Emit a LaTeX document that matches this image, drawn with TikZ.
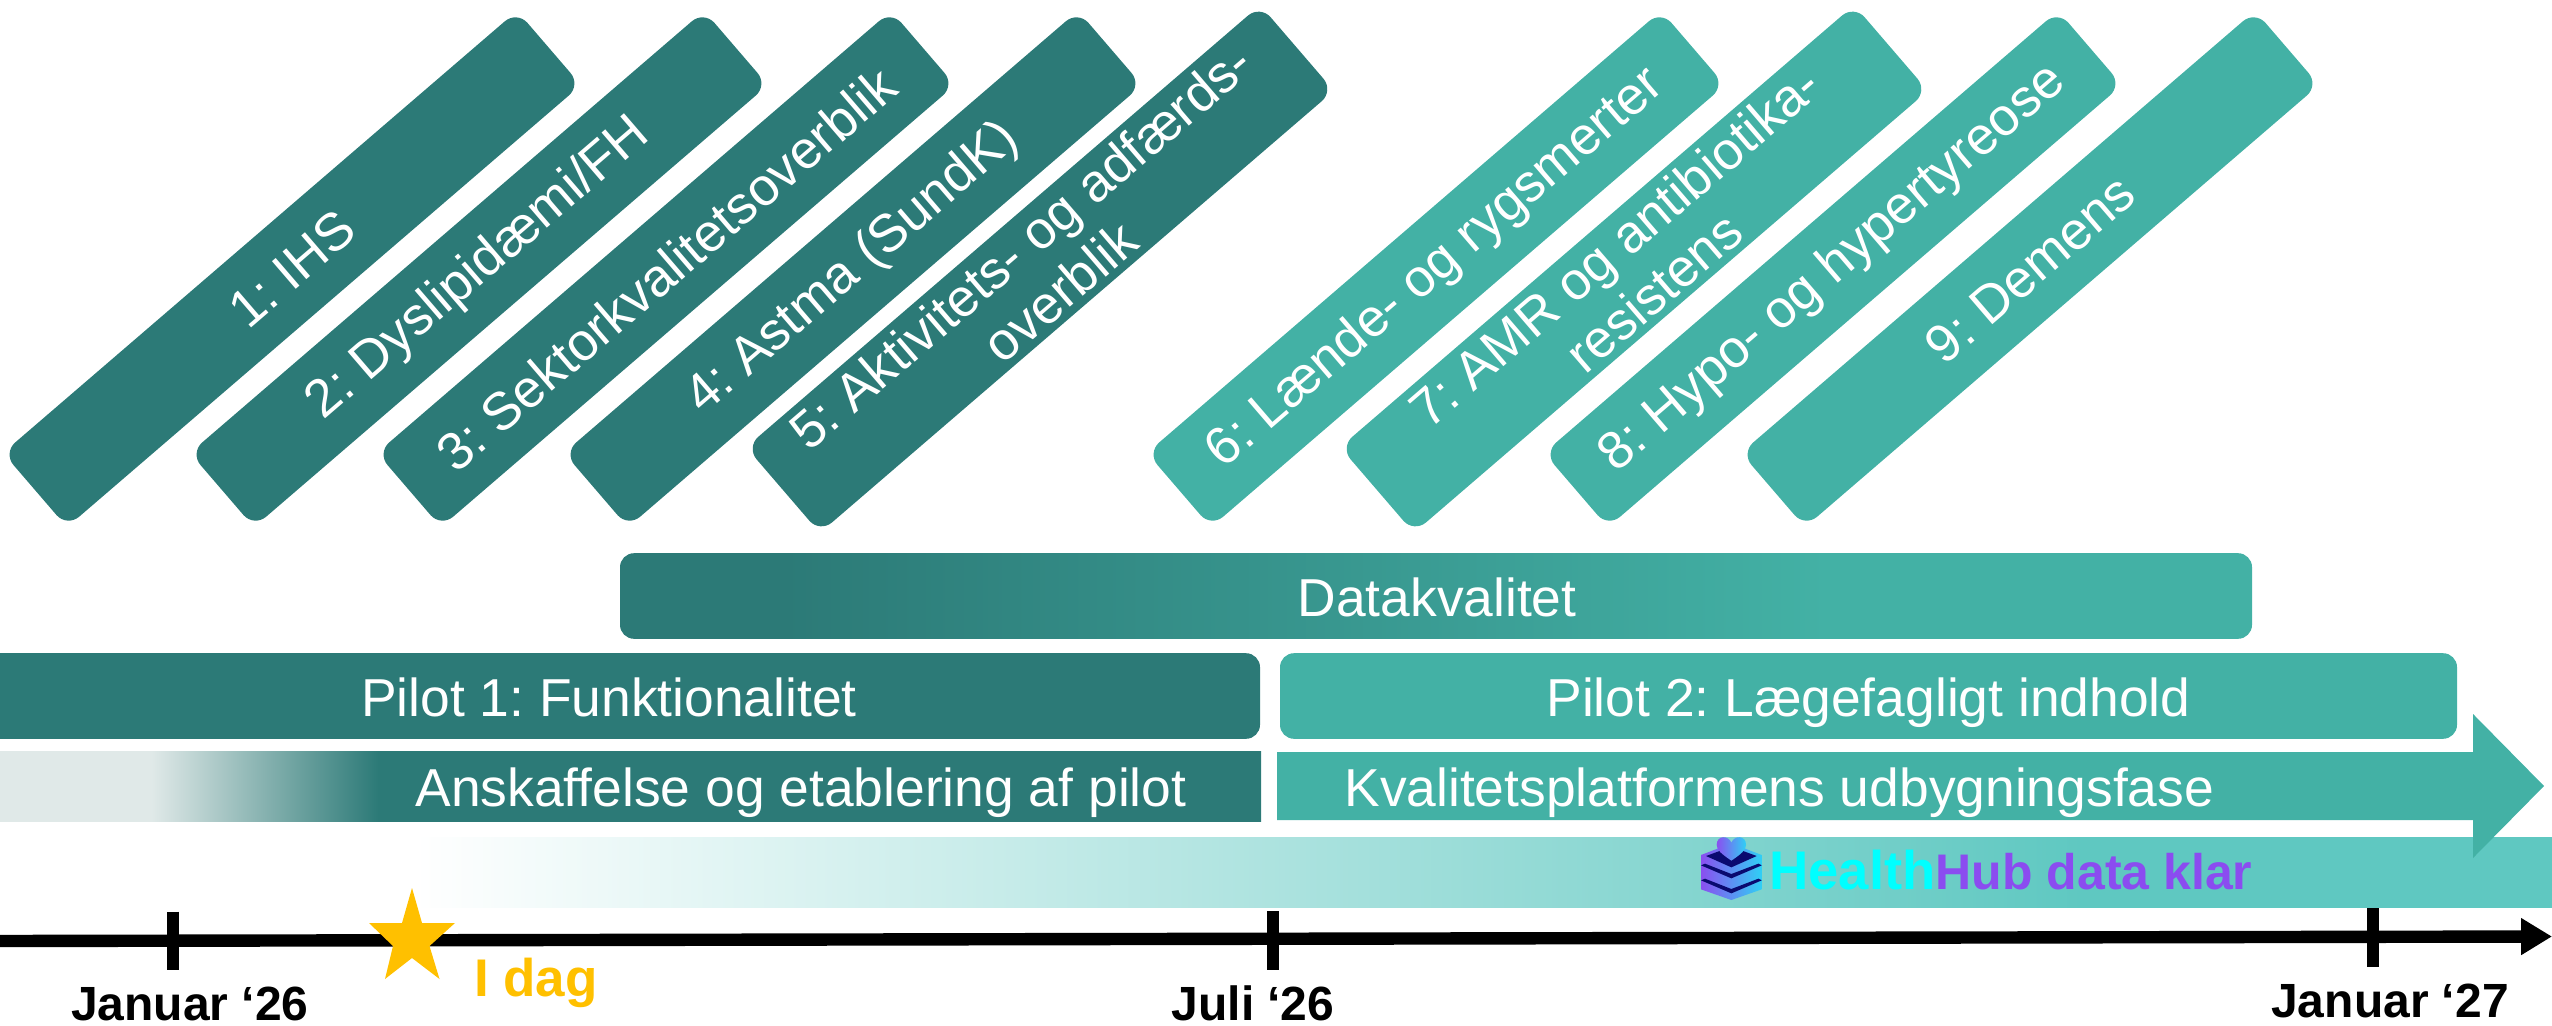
\documentclass[tikz,border=0pt]{standalone}
\usepackage{fontspec}
\setmainfont{Liberation Sans}
\usetikzlibrary{arrows.meta}
\frenchspacing
\definecolor{dk}{HTML}{2C7A77}
\definecolor{lt}{HTML}{43B1A5}
\definecolor{fade}{HTML}{E0E9E8}
\definecolor{hub}{HTML}{5FC8C1}
\definecolor{star}{HTML}{FFC000}
\definecolor{violet}{HTML}{8B4CF0}
\definecolor{aqua}{HTML}{00FFFF}
\definecolor{navy}{HTML}{0A0A70}
\definecolor{logoa}{HTML}{8A4FF0}
\definecolor{logob}{HTML}{2FD0F5}
\pgfdeclarehorizontalshading{dqshade}{100bp}{color(0bp)=(dk); color(30bp)=(dk); color(62bp)=(lt); color(100bp)=(lt)}
\pgfdeclarehorizontalshading{anshade}{100bp}{color(0bp)=(fade); color(25bp)=(fade); color(31bp)=(fade); color(40bp)=(dk); color(100bp)=(dk)}
\pgfdeclarehorizontalshading{hubshade}{100bp}{color(0bp)=(white); color(25bp)=(white); color(64bp)=(hub); color(100bp)=(hub)}
\tikzset{
  txt/.style={font=\fontsize{26.7}{30}\selectfont,text=white,inner sep=0pt},
  tilted/.style={rectangle,rounded corners=8pt,inner sep=0pt,rotate=40.7,font=\fontsize{26.5}{30}\selectfont,text=white,align=center,minimum height=49pt,minimum width=339pt},
  tiltedbig/.style={tilted,minimum height=56.5pt,minimum width=339pt},
  hbar/.style={rectangle,rounded corners=7pt,inner sep=0pt,minimum height=42.8pt},
  flat/.style={rectangle,inner sep=0pt,minimum height=35pt},
  tick/.style={line width=6pt,black},
  datelabel/.style={font=\fontsize{24}{28}\selectfont\bfseries,text=black,inner sep=0pt,anchor=base},
}
\begin{document}
\begin{tikzpicture}[x=0.5pt,y=0.5pt]
\useasboundingbox (0,0) rectangle (2552,-1026);
% tilted topic bars
\node[tilted,fill=dk] (b1) at (292,-269) {1: IHS};
\node[tilted,fill=dk] (b2) at (479,-269) {2: Dyslipidæmi/FH};
\node[tilted,fill=dk] (b3) at (666,-269) {3: Sektorkvalitetsoverblik};
\node[tilted,fill=dk] (b4) at (853,-269) {4: Astma (SundK)};
\node[tiltedbig,fill=dk] (b5) at (1040,-269) {5: Aktivitets- og adfærds-\\overblik};
\node[tilted,fill=lt] (b6) at (1436,-269) {6: Lænde- og rygsmerter};
\node[tiltedbig,fill=lt] (b7) at (1634,-269) {7: AMR og antibiotika-\\resistens};
\node[tilted,fill=lt] (b8) at (1833,-269) {8: Hypo- og hypertyreose};
\node[tilted,fill=lt] (b9) at (2030,-269) {9: Demens};
% horizontal bars
\node[hbar,shading=dqshade,minimum width=816pt] (dq) at (1436,-596) {};
\node[txt,anchor=base] (dqt) at (1437,-616.5) {Datakvalitet};
\node[hbar,fill=dk,minimum width=651pt] (p1) at (609,-696) {};
\node[txt,anchor=base] (p1t) at (609,-716) {Pilot 1: Funktionalitet};
\node[hbar,fill=lt,minimum width=588.5pt] (p2) at (1868.5,-696) {};
\node[txt,anchor=base] (p2t) at (1868.5,-716) {Pilot 2: Lægefagligt indhold};
% gradient band
\node[flat,shading=hubshade,minimum width=1068.5pt] (hb) at (1483.5,-872) {};
% procurement bar
\node[flat,shading=anshade,minimum width=630.5pt] (an) at (630.5,-786) {};
\node[txt,anchor=base] (ant) at (801,-806) {Anskaffelse og etablering af pilot};
% expansion arrow
\fill[lt] (1277,-752) -- (2473,-752) -- (2473,-714) -- (2544,-786) -- (2473,-858) -- (2473,-820) -- (1277,-820) -- cycle;
\node[txt,anchor=base west] (kv) at (1344,-806) {Kvalitetsplatformens udbygningsfase};
% HealthHub label
\node[inner sep=0pt,anchor=base west,font=\bfseries] (hh) at (1769,-889) {\textcolor{aqua}{\fontsize{27.2}{28}\selectfont Health}\textcolor{violet}{\fontsize{25}{28}\selectfont Hub data klar}};
% logo
\begin{scope}[shift={(1690,-830)},x=0.1667pt,y=0.1667pt]
  \shade[left color=logoa,right color=logob] (33,-75) -- (124,-40) -- (215,-75) -- (215,-178) -- (124,-210) -- (33,-178) -- cycle;
  \fill[navy] (48,-78) -- (124,-50) -- (200,-78) -- (124,-112) -- cycle;
  \fill[navy] (45,-101) -- (124,-132) -- (205,-101) -- (215,-106) -- (124,-145) -- (33,-106) -- cycle;
  \fill[navy] (45,-146) -- (124,-177) -- (205,-146) -- (215,-151) -- (124,-190) -- (33,-151) -- cycle;
  \shade[left color=logoa,right color=logob] (124,-92) .. controls (95,-72) and (80,-60) .. (80,-45) .. controls (80,-15) and (115,-15) .. (124,-38) .. controls (133,-15) and (168,-15) .. (168,-45) .. controls (168,-60) and (153,-72) .. (124,-92) -- cycle;
\end{scope}
% timeline
\coordinate (t0) at (0,-941);
\coordinate (t1) at (2552,-936.5);
\draw[line width=6.2pt,-{Triangle[length=15.5pt,width=17.5pt]}] (t0) -- (t1);
\coordinate (m1a) at (172.5,-911.5); \coordinate (m1b) at (172.5,-970);
\coordinate (m2a) at (1273,-911); \coordinate (m2b) at (1273,-969.5);
\coordinate (m3a) at (2373,-908); \coordinate (m3b) at (2373,-966.5);
\draw[tick] (m1a) -- (m1b);
\draw[tick] (m2a) -- (m2b);
\draw[tick] (m3a) -- (m3b);
% star
\fill[star] (412,-888) -- (422,-923) -- (455,-923) -- (429.5,-946) -- (439.5,-979) -- (412,-958) -- (385,-979) -- (393,-946) -- (369,-923) -- (402,-923) -- cycle;
% labels
\node[datelabel] (l1) at (190,-1020) {Januar ‘26};
\node[datelabel] (l2) at (1253,-1020) {Juli ‘26};
\node[datelabel] (l3) at (2390,-1017) {Januar ‘27};
\node[datelabel,text=star,font=\fontsize{26.5}{30}\selectfont\bfseries] (l4) at (536,-996.5) {I dag};
\end{tikzpicture}
\end{document}
